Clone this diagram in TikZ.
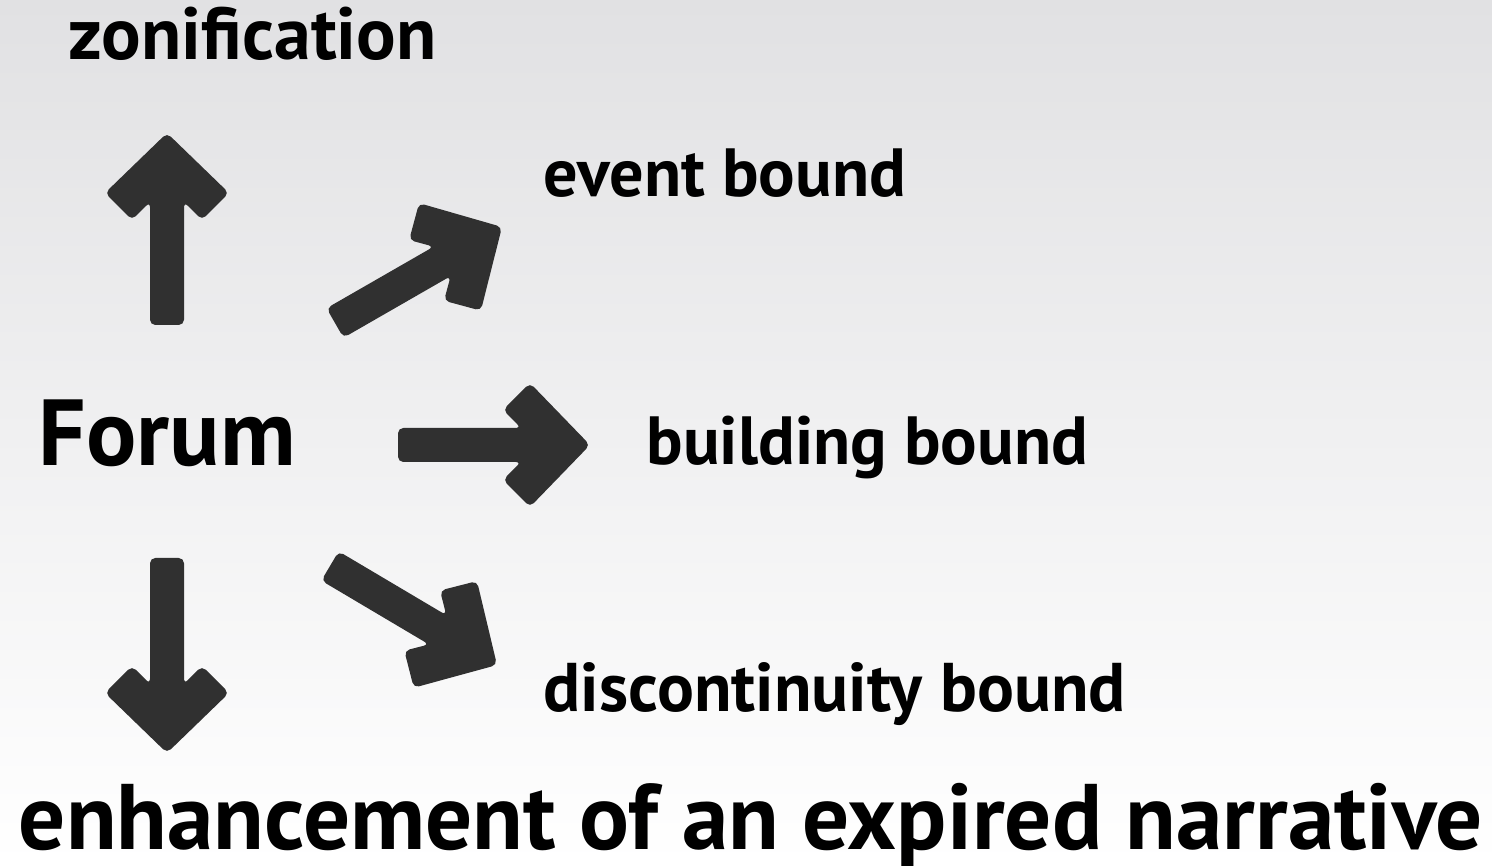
\documentclass[tikz,border=0pt]{standalone}
\usepackage{fontspec}
\setmainfont{PT Sans}
\usetikzlibrary{positioning,calc}
\definecolor{arrowgrey}{HTML}{303030}
\definecolor{bgtop}{HTML}{E1E1E3}
\tikzset{label node/.style={anchor=base west,inner sep=0pt,font=\bfseries\fontsize{18}{20}\selectfont},
         fat arrow/.style={fill=arrowgrey,rounded corners=1.5pt,
            to path={($(\tikztostart)!0.17cm!90:(\tikztotarget)$)
              -- ($(\tikztotarget)!0.69cm!(\tikztostart)!0.17cm!90:(\tikztotarget)$)
              -- ($(\tikztotarget)!0.87cm!(\tikztostart)!0.35cm!90:(\tikztotarget)$)
              -- ($(\tikztotarget)!0.60cm!(\tikztostart)!0.62cm!90:(\tikztotarget)$)
              -- (\tikztotarget)
              -- ($(\tikztotarget)!0.60cm!(\tikztostart)!0.62cm!-90:(\tikztotarget)$)
              -- ($(\tikztotarget)!0.87cm!(\tikztostart)!0.35cm!-90:(\tikztotarget)$)
              -- ($(\tikztotarget)!0.69cm!(\tikztostart)!0.17cm!-90:(\tikztotarget)$)
              -- ($(\tikztostart)!0.17cm!-90:(\tikztotarget)$) -- cycle}},
            }

\begin{document}
\begin{tikzpicture}
    \shade[top color=bgtop,bottom color=white] (0,0) rectangle (14.92,8.66);
    \useasboundingbox (0,0) rectangle (14.92,8.66);

    \node[label node,font=\bfseries\fontsize{21}{23}\selectfont] (zon) at (0.68,8.06) {zonification};
    \node[label node,font=\bfseries\fontsize{19.4}{22}\selectfont] (event) at (5.43,6.69) {event bound};
    \node[label node,font=\bfseries\fontsize{26.7}{30}\selectfont] (forum) at (0.38,4.00) {Forum};
    \node[label node,font=\bfseries\fontsize{19.4}{22}\selectfont] (building) at (6.46,4.01) {building bound};
    \node[label node,font=\bfseries\fontsize{19.6}{22}\selectfont] (discont) at (5.43,1.54) {discontinuity bound};
    \node[label node,font=\bfseries\fontsize{26.5}{30}\selectfont] (narrative) at (0.18,0.16) {enhancement of an expired narrative};

    \coordinate (up0) at (1.67,5.41);
    \coordinate (up1) at (1.67,7.33);
    \coordinate (ne0) at (3.35,5.43);
    \coordinate (ne1) at (5.02,6.39);
    \coordinate (rt0) at (3.98,4.21);
    \coordinate (rt1) at (5.90,4.21);
    \coordinate (se0) at (3.30,3.00);
    \coordinate (se1) at (4.97,2.01);
    \coordinate (dn0) at (1.67,3.08);
    \coordinate (dn1) at (1.67,1.13);

    \path[fat arrow]
    (up0) to (up1)
    (ne0) to (ne1)
    (rt0) to (rt1)
    (se0) to (se1)
    (dn0) to (dn1);
\end{tikzpicture}
\end{document}
